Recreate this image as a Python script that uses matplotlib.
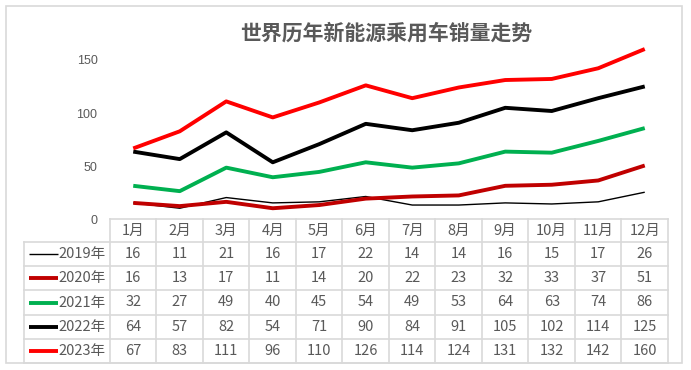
import matplotlib
matplotlib.use("Agg")
import matplotlib.pyplot as plt
from matplotlib.patches import Rectangle

plt.rcParams['font.family'] = ['Noto Sans CJK SC', 'DejaVu Sans']

title = "世界历年新能源乘用车销量走势"
months = ["1月", "2月", "3月", "4月", "5月", "6月", "7月", "8月", "9月", "10月", "11月", "12月"]
series_names = ["2019年", "2020年", "2021年", "2022年", "2023年"]
s2019 = [16, 11, 21, 16, 17, 22, 14, 14, 16, 15, 17, 26]
s2020 = [16, 13, 17, 11, 14, 20, 22, 23, 32, 33, 37, 51]
s2021 = [32, 27, 49, 40, 45, 54, 49, 53, 64, 63, 74, 86]
s2022 = [64, 57, 82, 54, 71, 90, 84, 91, 105, 102, 114, 125]
s2023 = [67, 83, 111, 96, 110, 126, 114, 124, 131, 132, 142, 160]
yticks = [0, 50, 100, 150]

series = [s2019, s2020, s2021, s2022, s2023]
colors = ["#000000", "#C00000", "#00B050", "#000000", "#FF0000"]
widths = [1.0, 2.8, 2.8, 2.8, 2.8]

W, H = 691, 370
fig = plt.figure(figsize=(W / 100, H / 100), dpi=100)
fig.patch.set_facecolor("white")

def rect(x0, y0, x1, y1):
    # pixel coords from top-left -> figure fraction
    return [x0 / W, 1 - y1 / H, (x1 - x0) / W, (y1 - y0) / H]

# outer border
fig.patches.append(Rectangle((6 / W, 1 - 363 / H), 676 / W, 357 / H,
                             transform=fig.transFigure, fill=False,
                             edgecolor="#D9D9D9", linewidth=1.2))

gray = "#595959"
tab_left, tab_right = 110, 668
ax = fig.add_axes(rect(tab_left, 33, tab_right, 220))
x = list(range(len(months)))
for s, c, w in zip(series, colors, widths):
    ax.plot(x, s, color=c, linewidth=w, solid_joinstyle="round", solid_capstyle="butt")
ax.set_xlim(-0.5, len(months) - 0.5)
ax.set_ylim(0, 175)
ax.set_yticks(yticks)
ax.set_yticklabels([str(v) for v in yticks], color=gray, fontsize=9, family=['Liberation Sans Narrow', 'Liberation Sans', 'DejaVu Sans'])
ax.tick_params(axis='y', length=0, pad=9)
ax.set_xticks([])
for sp in ax.spines.values():
    sp.set_visible(False)
ax.patch.set_alpha(0)

fig.text(386 / W, 1 - 33 / H, title, ha="center", va="center", fontsize=15,
         color=gray, fontweight="bold")

# data table
tax = fig.add_axes(rect(0, 0, W, H))
tax.set_xlim(0, W)
tax.set_ylim(H, 0)
tax.axis("off")
tax.patch.set_alpha(0)

grid = "#D9D9D9"
lw = 1.2
ncol = len(months)
cw = (tab_right - tab_left) / ncol
head_top, head_bot = 219, 242
row_h = (363 - head_bot) / len(series)
label_left = 24

for i, m in enumerate(months):
    cx = tab_left + (i + 0.5) * cw
    tax.text(cx, (head_top + head_bot) / 2, m, ha="center", va="center", fontsize=10.5, color=gray)
tax.plot([tab_left, tab_right], [head_top, head_top], color=grid, lw=lw)
for k in range(len(series) + 1):
    y = head_bot + k * row_h
    tax.plot([label_left, tab_right], [y, y], color=grid, lw=lw)
tax.plot([label_left, label_left], [head_bot, 363], color=grid, lw=lw)
for i in range(ncol + 1):
    xx = tab_left + i * cw
    tax.plot([xx, xx], [head_top, 363], color=grid, lw=lw)

for k, (name, s, c, w) in enumerate(zip(series_names, series, colors, widths)):
    cy = head_bot + (k + 0.5) * row_h
    tax.plot([29, 58], [cy, cy], color=c, lw=w, solid_capstyle="butt")
    tax.text(106, cy, name, ha="right", va="center", fontsize=10.5, color=gray)
    for i, v in enumerate(s):
        cx = tab_left + (i + 0.5) * cw
        tax.text(cx, cy, str(v), ha="center", va="center", fontsize=10.5, color=gray)

fig.savefig("out.png", dpi=100)
